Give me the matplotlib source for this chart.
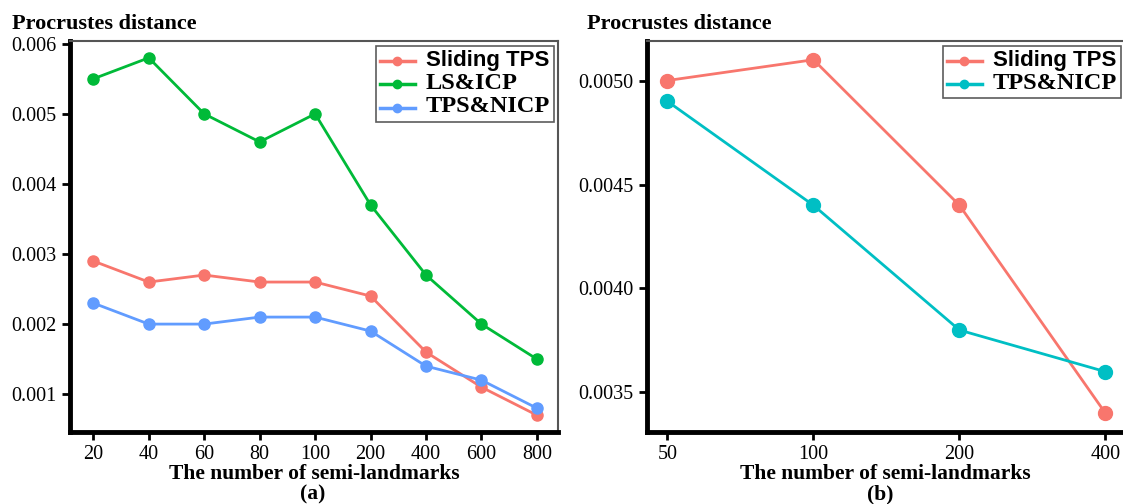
import numpy as np
import matplotlib.pyplot as plt
from matplotlib.lines import Line2D

plt.rcParams['font.family'] = ['Liberation Serif', 'DejaVu Serif']

# panel (a)
labels_a = ["20", "40", "60", "80", "100", "200", "400", "600", "800"]
sliding_a = [0.0029, 0.0026, 0.0027, 0.0026, 0.0026, 0.0024, 0.0016, 0.0011, 0.0007]
lsicp_a = [0.0055, 0.0058, 0.0050, 0.0046, 0.0050, 0.0037, 0.0027, 0.0020, 0.0015]
nicp_a = [0.0023, 0.0020, 0.0020, 0.0021, 0.0021, 0.0019, 0.0014, 0.0012, 0.0008]

# panel (b)
labels_b = ["50", "100", "200", "400"]
sliding_b = [0.0050, 0.0051, 0.0044, 0.0034]
nicp_b = [0.0049, 0.0044, 0.0038, 0.0036]

red = "#F8766D"
green = "#00BA38"
blue = "#619CFF"
cyan = "#00BFC4"

fig = plt.figure(figsize=(11.23, 5.04), dpi=100)
ax1 = fig.add_axes([70 / 1123, 72 / 504, 488 / 1123, 391 / 504])
ax2 = fig.add_axes([647 / 1123, 72 / 504, 476 / 1123, 391 / 504])


def style_axes(ax):
    for side in ["left", "bottom"]:
        ax.spines[side].set_linewidth(3.5)
        ax.spines[side].set_color("black")
    for side in ["top", "right"]:
        ax.spines[side].set_linewidth(1.5)
        ax.spines[side].set_color("#555555")
    ax.tick_params(direction="out", length=6, width=2, labelsize=14.5, color="black")
    ax.set_xlabel("The number of semi-landmarks", fontsize=15.5, fontweight="bold", labelpad=0)


x_a = np.arange(len(labels_a))
ax1.plot(x_a, lsicp_a, color=green, lw=2, marker="o", ms=8)
ax1.plot(x_a, sliding_a, color=red, lw=2, marker="o", ms=8)
ax1.plot(x_a, nicp_a, color=blue, lw=2, marker="o", ms=8)
ax1.set_xticks(x_a)
ax1.set_xticklabels(labels_a)
ax1.set_xlim(-0.42, 8.38)
ax1.set_yticks([0.001, 0.002, 0.003, 0.004, 0.005, 0.006])
ax1.set_yticklabels(["0.001", "0.002", "0.003", "0.004", "0.005", "0.006"])
ax1.set_ylim(0.00046, 0.00604)
style_axes(ax1)

x_b = np.arange(len(labels_b))
ax2.plot(x_b, sliding_b, color=red, lw=2, marker="o", ms=10)
ax2.plot(x_b, nicp_b, color=cyan, lw=2, marker="o", ms=10)
ax2.set_xticks(x_b)
ax2.set_xticklabels(labels_b)
ax2.set_xlim(-0.14, 3.12)
ax2.set_yticks([0.0035, 0.0040, 0.0045, 0.0050])
ax2.set_yticklabels(["0.0035", "0.0040", "0.0045", "0.0050"])
ax2.set_ylim(0.00331, 0.00519)
style_axes(ax2)
ax2.spines["right"].set_visible(False)


def legend_handle(c):
    return Line2D([0], [0], color=c, lw=2.5, marker="o", ms=6)


sans = {"family": "Liberation Sans", "weight": "bold", "size": 16}
serif = {"family": "Liberation Serif", "weight": "bold", "size": 17.5}

leg1 = ax1.legend([legend_handle(red), legend_handle(green), legend_handle(blue)],
                  ["Sliding TPS", "LS&ICP", "TPS&NICP"],
                  loc="upper right", bbox_to_anchor=(0.992, 0.987), borderaxespad=0,
                  frameon=True, fancybox=False, edgecolor="#333333", handlelength=2.5,
                  borderpad=0.3, labelspacing=0.15, handletextpad=0.8)
leg1.get_frame().set_linewidth(1.2)
for t, p in zip(leg1.get_texts(), [sans, serif, serif]):
    t.set_fontproperties(p)

leg2 = ax2.legend([legend_handle(red), legend_handle(cyan)],
                  ["Sliding TPS", "TPS&NICP"],
                  loc="upper right", bbox_to_anchor=(0.996, 0.987), borderaxespad=0,
                  frameon=True, fancybox=False, edgecolor="#333333", handlelength=2.5,
                  borderpad=0.3, labelspacing=0.15, handletextpad=0.8)
leg2.get_frame().set_linewidth(1.2)
for t, p in zip(leg2.get_texts(), [sans, serif]):
    t.set_fontproperties(p)

fig.text(12 / 1123, 1 - 24 / 504, "Procrustes distance", fontsize=16, fontweight="bold", va="center")
fig.text(587 / 1123, 1 - 24 / 504, "Procrustes distance", fontsize=16, fontweight="bold", va="center")
fig.text(313 / 1123, 1 - 494 / 504, "(a)", fontsize=15.5, fontweight="bold", ha="center", va="center")
fig.text(880 / 1123, 1 - 494 / 504, "(b)", fontsize=15.5, fontweight="bold", ha="center", va="center")

fig.savefig("out.png", dpi=100)
